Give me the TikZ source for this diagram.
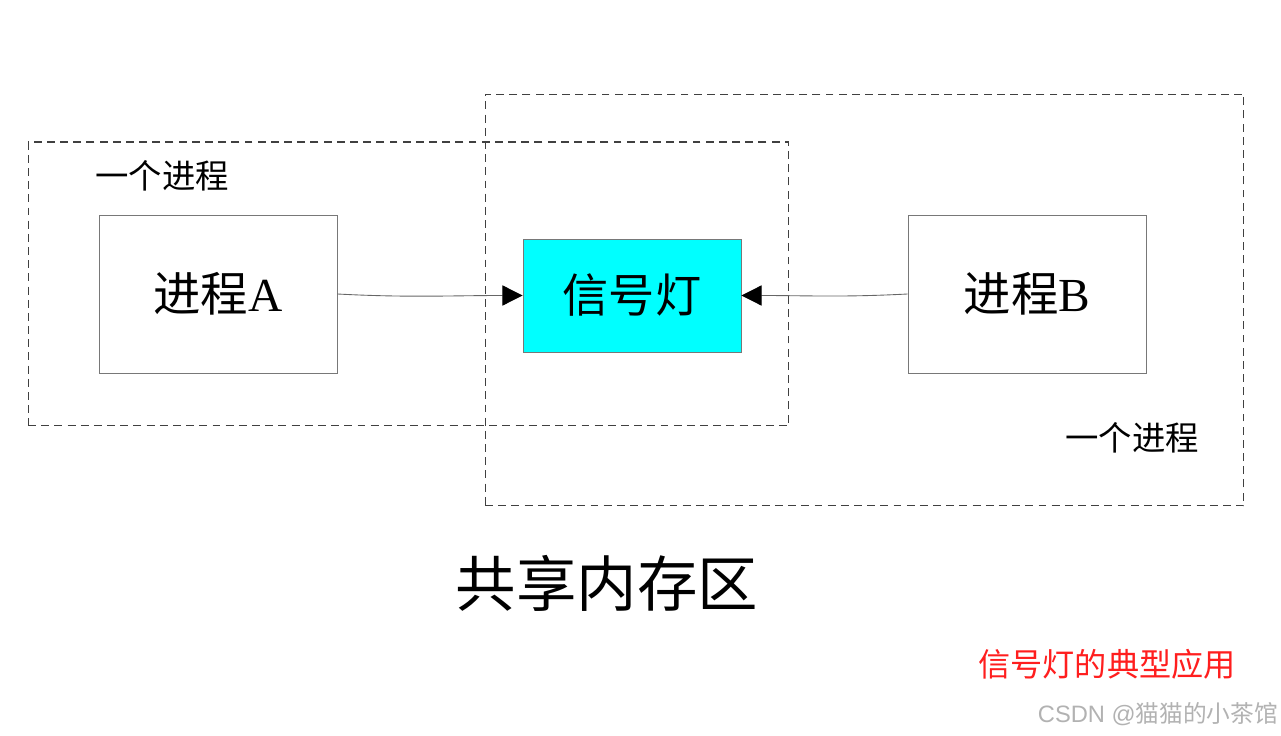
\documentclass[tikz,border=0pt]{standalone}
\usepackage{fontspec}
\setmainfont{Liberation Serif}
\newfontfamily\cjk{Noto Sans CJK SC}
\usetikzlibrary{arrows.meta,positioning}
\definecolor{boxgray}{RGB}{120,120,120}
\definecolor{semcyan}{RGB}{0,255,255}
\definecolor{capred}{RGB}{255,30,30}
\tikzstyle{region} = [rectangle, draw=black!75, dash pattern=on 4.5pt off 3pt, line width=0.6pt]
\tikzstyle{proc} = [rectangle, draw=boxgray, line width=0.5pt, minimum width=4.76cm, minimum height=3.16cm, font=\fontsize{27}{30}\selectfont]
\tikzstyle{sem} = [rectangle, draw=boxgray, fill=semcyan, line width=0.5pt, minimum width=4.36cm, minimum height=2.26cm, font=\fontsize{26.3}{29}\selectfont]
\tikzstyle{arrow} = [draw=black!60, line width=0.5pt, -{Triangle[length=11.5pt,width=11.5pt,fill=black,color=black]}]
\tikzstyle{tag} = [font=\fontsize{19}{22}\selectfont\cjk]
\begin{document}
\begin{tikzpicture}[x=0.02cm,y=-0.02cm]
\useasboundingbox (0,0) rectangle (1281,736);
% two process regions
\node (left) [region, minimum width=15.22cm, minimum height=5.68cm] at (408.5,284) {};
\node (right) [region, minimum width=15.18cm, minimum height=8.24cm] at (864.5,300) {};
\node (taga) [tag] at (162,176) {一个进程};
\node (tagb) [tag] at (1132,438) {一个进程};
% processes and semaphore
\node (pa) [proc] at (218,294) {{\cjk 进程}A};
\node (s) [sem] at (632,295.5) {\cjk 信号灯};
\node (pb) [proc] at (1027,294) {{\cjk 进程}B};
\draw [arrow] (pa.east) to[out=-3,in=180] (s.west);
\draw [arrow] (pb.west) to[out=183,in=0] (s.east);
% captions
\node (shm) [font=\fontsize{34.4}{38}\selectfont\cjk] at (607,583) {共享内存区};
\node (cap) [font=\fontsize{18.3}{21}\selectfont\cjk, text=capred] at (1107,664) {信号灯的典型应用};
\node (mark) [font=\fontsize{13.5}{15}\selectfont\cjk, text=black!30] at (1158,714) {\fontspec{Liberation Sans}CSDN @{\cjk 猫猫的小茶馆}};
\end{tikzpicture}
\end{document}
